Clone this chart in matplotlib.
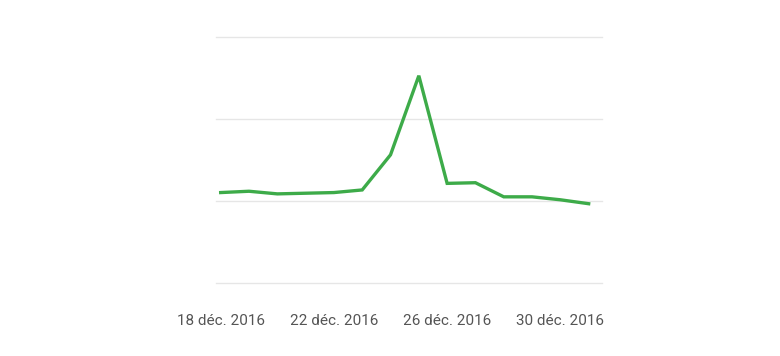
import matplotlib.pyplot as plt

days = list(range(14))
values = [27.7, 28.1, 27.3, 27.5, 27.7, 28.5, 39.2, 63.3, 30.5, 30.7, 26.4, 26.4, 25.5, 24.3]
tick_pos = [0, 4, 8, 12]
tick_labels = ["18 déc. 2016", "22 déc. 2016", "26 déc. 2016", "30 déc. 2016"]
grid_vals = [0, 25, 50, 75]

plt.rcParams['font.family'] = ['Roboto', 'DejaVu Sans']

fig = plt.figure(figsize=(7.8, 3.56), dpi=100)
ax = fig.add_axes([0.2765, 0.2037, 0.4949, 0.6915])

# light horizontal grid, drawn by hand so the edges are not clipped
for g in grid_vals:
    ax.axhline(g, color='#e6e6e6', linewidth=1, zorder=1, clip_on=False)

ax.plot(days, values, color='#3dab49', linewidth=2.4, zorder=3,
        solid_joinstyle='miter')

ax.set_xlim(-0.177, 13.46)
ax.set_ylim(0, 75)
ax.set_xticks(tick_pos)
ax.set_xticklabels(tick_labels, color='#555555', fontsize=11)
ax.tick_params(axis='x', length=0, pad=22)
ax.set_yticks([])
for s in ax.spines.values():
    s.set_visible(False)

fig.savefig('out.png', dpi=100)
